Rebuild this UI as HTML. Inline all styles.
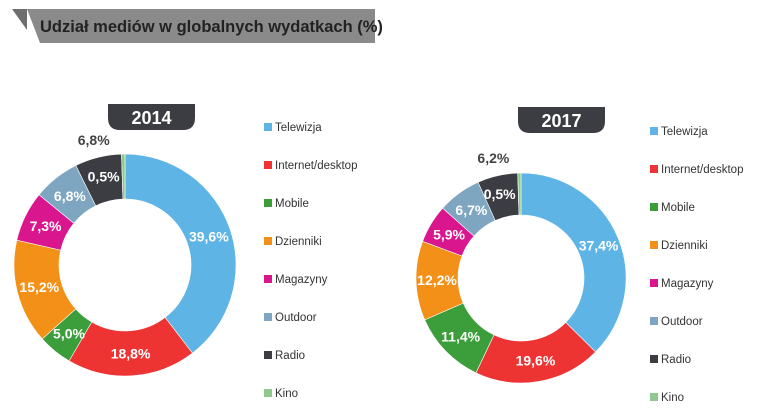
<!DOCTYPE html>
<html><head><meta charset="utf-8"><style>
body{margin:0;background:#fff;width:758px;height:410px;overflow:hidden;font-family:"Liberation Sans",sans-serif}
svg{display:block}
</style></head><body>
<svg width="758" height="410" id="chart">
<g>
<polygon points="27,9 375,9 375,43 40,43" fill="#8a8a8a"/>
<polygon points="12,9 27,9 27,30" fill="#6e6e6e"/>
<text x="40" y="32" font-size="16.5" font-weight="bold" fill="#222">Udział mediów w globalnych wydatkach (%)</text>
</g>
</svg>
<script>
const categories=["Telewizja","Internet/desktop","Mobile","Dzienniki","Magazyny","Outdoor","Radio","Kino"];
const values2014=[39.6,18.8,5.0,15.2,7.3,6.8,6.8,0.5];
const values2017=[37.4,19.6,11.4,12.2,5.9,6.7,6.2,0.5];
const years=["2014","2017"];
const colors=["#5fb4e6","#ee3333","#3b9e3b","#f39017","#d9168d","#7ea6c0","#3c3d42","#8fc98f"];
const NS="http://www.w3.org/2000/svg";
const svg=document.getElementById('chart');
function mk(t,a,p){const e=document.createElementNS(NS,t);for(const k in a)e.setAttribute(k,a[k]);(p||svg).appendChild(e);return e;}
function fmt(v){return v.toFixed(1).replace('.',',')+'%';}
const layouts=[
 {cx:125,cy:265,ro:111,ri:66,badge:[108,104],leg:[264,127]},
 {cx:521,cy:278,ro:105,ri:63,badge:[518,107],leg:[650,131]}
];
[values2014,values2017].forEach((vals,di)=>{
 const L=layouts[di];
 const g=mk('g',{});
 
 
 const total=vals.reduce((a,b)=>a+b,0);
 let acc=0;
 vals.forEach((v,i)=>{
  const a0=acc/total*2*Math.PI-Math.PI/2;acc+=v;
  const a1=acc/total*2*Math.PI-Math.PI/2;
  const lg=(a1-a0)>Math.PI?1:0;
  const p=(r,a)=>[L.cx+r*Math.cos(a),L.cy+r*Math.sin(a)];
  const [x0,y0]=p(L.ro,a0),[x1,y1]=p(L.ro,a1),[x2,y2]=p(L.ri,a1),[x3,y3]=p(L.ri,a0);
  const s=mk('path',{d:`M${x0},${y0}A${L.ro},${L.ro} 0 ${lg} 1 ${x1},${y1}L${x2},${y2}A${L.ri},${L.ri} 0 ${lg} 0 ${x3},${y3}Z`,fill:colors[i],stroke:'#fff','stroke-width':0.6},g);
  
  
  const am=(a0+a1)/2;
  let r=(L.ro+L.ri)/2,dx=0,fill='#fff';
  if(i===6){r=L.ro+18;fill='#444';}
  if(i===7){dx=-20;}
  const [lx,ly]=p(r,am);
  const t=mk('text',{x:lx+dx,y:ly+5,'text-anchor':'middle','font-size':14,'font-weight':'bold',fill:fill},g);
  t.textContent=fmt(v);
  
  
 });
 const [bx,by]=L.badge;
 const b=mk('path',{d:`M${bx},${by}H${bx+87}V${by+14}Q${bx+87},${by+26} ${bx+75},${by+26}H${bx+12}Q${bx},${by+26} ${bx},${by+14}Z`,fill:'#3c3d42'},g);
 
 
 const bt=mk('text',{x:bx+43.5,y:by+20,'text-anchor':'middle','font-size':18,'font-weight':'bold',fill:'#fff'},g);
 bt.textContent=years[di];
 
 
 const [gx,gy]=L.leg;
 categories.forEach((c,i)=>{
  const y=gy+i*38;
  const lgE=mk('g',{},g);
  
  
  mk('rect',{x:gx,y:y-4,width:8,height:8,fill:colors[i]},lgE);
  const t=mk('text',{x:gx+11,y:y+4,'font-size':11.5,fill:'#333'},lgE);
  t.textContent=c;
 });
});
</script>
</body></html>
